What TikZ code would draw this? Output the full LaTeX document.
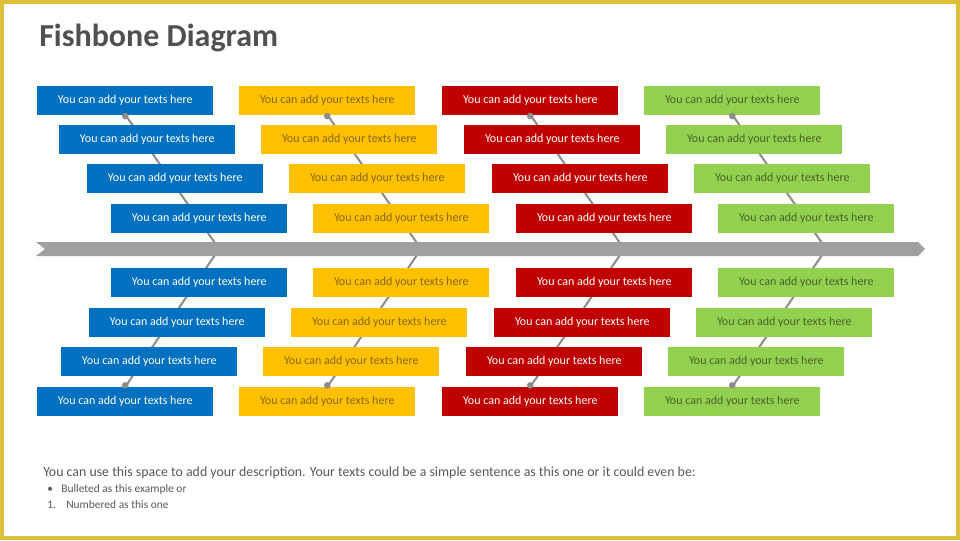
\documentclass[tikz,border=0pt]{standalone}
\usepackage{fontspec}
\setmainfont{Carlito}
\pgfdeclarelayer{background}
\pgfsetlayers{background,main}
\definecolor{frame}{HTML}{DDBF3A}
\definecolor{cblue}{HTML}{0070C0}
\definecolor{cyellow}{HTML}{FFC000}
\definecolor{cred}{HTML}{C00000}
\definecolor{cgreen}{HTML}{92D050}
\definecolor{tyellow}{HTML}{86680F}
\definecolor{tgreen}{HTML}{4A6428}
\definecolor{spinecol}{HTML}{A0A0A0}
\definecolor{bonecol}{HTML}{8C8C8C}
\definecolor{titlecol}{HTML}{505050}
\definecolor{desccol}{HTML}{595959}
\tikzset{
  box/.style={minimum width=132pt, minimum height=21.75pt, inner sep=0pt, anchor=west,
    font=\fontsize{9}{11}\selectfont},
  bluebox/.style={box, fill=cblue, text=white},
  yellowbox/.style={box, fill=cyellow, text=tyellow},
  redbox/.style={box, fill=cred, text=white},
  greenbox/.style={box, fill=cgreen, text=tgreen},
  bone/.style={draw=bonecol, line width=1.5pt},
  bonedot/.style={circle, fill=bonecol, inner sep=0pt, minimum size=5pt},
  desctext/.style={anchor=base west, text=desccol, inner sep=0pt},
}
\begin{document}
\begin{tikzpicture}[x=0.75pt,y=-0.75pt]
\useasboundingbox (0,0) rectangle (960,540);
\begin{pgfonlayer}{background}
\fill[white] (0,0) rectangle (960,540);
\end{pgfonlayer}
\draw[frame, line width=3pt] (2,2) rectangle (958,538);

% title
\node[anchor=base west, text=titlecol, font=\fontsize{24}{28}\selectfont\bfseries, inner sep=0pt] (title) at (39,46) {Fishbone Diagram};

% spine
\fill[spinecol] (36,242) -- (45,249) -- (36,256) -- (918,256) -- (925,249) -- (918,242) -- cycle;

% boxes
\foreach \r/\y/\xl in {1/100/37, 2/139.5/59, 3/178.5/87, 4/218.5/111, 5/282.5/111, 6/322.5/89, 7/361.5/61, 8/401.5/37}{
  \node[bluebox]   (b\r) at (\xl,\y) {You can add your texts here};
  \node[yellowbox] (y\r) at (\xl+202,\y) {You can add your texts here};
  \node[redbox]    (r\r) at (\xl+405,\y) {You can add your texts here};
  \node[greenbox]  (g\r) at (\xl+607,\y) {You can add your texts here};
}

% bones
\foreach \c/\sx in {b/215, y/417, r/620, g/822}{
  \coordinate (\c top) at (\sx,243);
  \coordinate (\c bot) at (\sx,255);
  \begin{pgfonlayer}{background}
    \draw[bone] (\c1.south) -- (\c top);
    \draw[bone] (\c8.north) -- (\c bot);
  \end{pgfonlayer}
  \node[bonedot] (\c dot1) at ([yshift=-1pt]\c1.south) {};
  \node[bonedot] (\c dot8) at ([yshift=1pt]\c8.north) {};
}

% description
\node[desctext, font=\fontsize{10.4}{12}\selectfont] (desc) at (43,476) {You can use this space to add your description. Your texts could be a simple sentence as this one or it could even be:};
\node[desctext, font=\fontsize{8.6}{10}\selectfont] (bul) at (47,492) {\textbullet};
\node[desctext, font=\fontsize{8.6}{10}\selectfont] (bult) at (61,492) {Bulleted as this example or};
\node[desctext, font=\fontsize{8.6}{10}\selectfont] (num) at (47,508) {1.};
\node[desctext, font=\fontsize{8.6}{10}\selectfont] (numt) at (66,508) {Numbered as this one};
\end{tikzpicture}
\end{document}
